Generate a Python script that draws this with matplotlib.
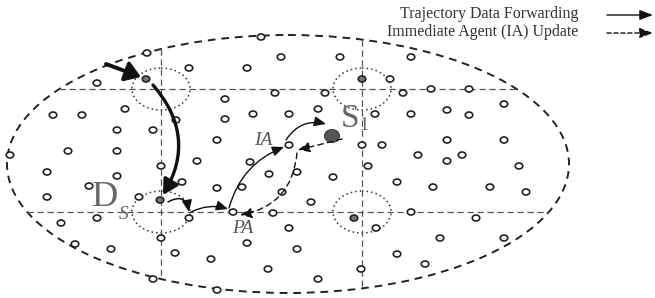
import matplotlib
matplotlib.use("Agg")
import matplotlib.pyplot as plt
import numpy as np
from matplotlib.patches import Ellipse, FancyArrowPatch

# ---- data (image pixel coordinates) ----
node_x = [147, 189, 97, 53, 82, 125, 117, 153, 176, 217, 68, 117, 10,
          261, 281, 340, 411, 247, 390, 225, 275, 325, 403, 431, 225, 253, 289, 318, 375, 411,
          289, 362, 382, 418, 469, 447, 469, 504, 447, 504, 462,
          47, 117, 161, 197, 89, 47, 139, 182, 217, 189, 97, 61, 161, 75, 111, 175, 211, 153, 217,
          250, 269, 297, 242, 282, 311, 333, 368, 397, 233, 273, 289, 376, 411, 247, 297, 397, 425,
          268, 361, 318, 447, 519, 433, 490, 526, 476, 440, 504]
node_y = [53, 68, 83, 115, 115, 109, 130, 130, 120, 140, 151, 151, 155,
          37, 57, 57, 57, 68, 79, 99, 93, 93, 93, 89, 119, 114, 114, 109, 114, 114,
          145, 145, 145, 155, 89, 110, 115, 104, 140, 140, 155,
          172, 176, 166, 161, 186, 197, 197, 182, 188, 218, 218, 223, 238, 244, 249, 253, 259, 279, 290,
          162, 174, 172, 187, 192, 202, 177, 166, 182, 212, 213, 228, 228, 212, 243, 249, 254, 264,
          269, 269, 279, 161, 166, 187, 187, 192, 218, 238, 238]
gray_x = [146, 362, 160, 354]
gray_y = [79, 79, 200, 218]
grid_x = [161, 362]
grid_y = [89, 212]
source = (332, 136)

legend_labels = ["Trajectory Data Forwarding", "Immediate Agent (IA) Update"]

W, H = 655, 298
fig = plt.figure(figsize=(W / 100, H / 100), dpi=100)
ax = fig.add_axes([0, 0, 1, 1])
ax.set_xlim(0, W)
ax.set_ylim(H, 0)
ax.axis("off")

# ellipse boundary
cx, cy, a, b = 288, 164, 281, 129
ax.add_patch(Ellipse((cx, cy), 2 * a, 2 * b, fill=False, ec="#222222", lw=1.4,
                     ls=(0, (4, 3))))

# grid lines clipped to ellipse
for gy in grid_y:
    half = a * np.sqrt(max(0, 1 - ((gy - cy) / b) ** 2))
    ax.plot([cx - half, cx + half], [gy, gy], color="#555555", lw=0.9, ls=(0, (5, 3)))
for gx in grid_x:
    half = b * np.sqrt(max(0, 1 - ((gx - cx) / a) ** 2))
    ax.plot([gx, gx], [cy - half, cy + half], color="#555555", lw=0.9, ls=(0, (5, 3)))

# dotted circles at intersections
for gx in grid_x:
    for gy in grid_y:
        ax.add_patch(Ellipse((gx, gy), 58, 42, fill=False, ec="#333333", lw=1.1,
                             ls=(0, (1, 2))))

# nodes
for x, y in zip(node_x, node_y):
    ax.add_patch(Ellipse((x, y), 7.5, 6, fill=True, fc="white", ec="#222222", lw=1.2, zorder=3))
for x, y in zip(gray_x, gray_y):
    ax.add_patch(Ellipse((x, y), 7.5, 6, fc="#777777", ec="#222222", lw=1.2, zorder=3))
ax.add_patch(Ellipse(source, 15, 13, fc="#555555", ec="#444444", lw=0.8, zorder=3))

def arrow(p0, p1, rad=0.0, lw=1.0, ls="-", head=(6, 2.5), color="#111111"):
    style = "-|>,head_length=%g,head_width=%g" % (head[0] / 2.0, head[1] / 2.0)
    ap = FancyArrowPatch(p0, p1, connectionstyle="arc3,rad=%g" % rad,
                         arrowstyle=style, lw=lw, ls=ls, color=color,
                         mutation_scale=2.0, shrinkA=0, shrinkB=0, zorder=4)
    ax.add_patch(ap)

# trajectory data forwarding (solid)
arrow((106, 64), (141, 77), rad=0.0, lw=2.8, head=(9, 6))
arrow((153, 85), (163, 195), rad=-0.36, lw=2.4, head=(9, 5))
arrow((168, 202), (189, 212), rad=-0.7, lw=1.1, head=(7, 3))
arrow((191, 212), (228, 209), rad=-0.2, lw=1.0, head=(7, 3))
arrow((229, 208), (284, 147), rad=-0.25, lw=1.0, head=(7, 3))
arrow((286, 140), (326, 124), rad=-0.35, lw=1.0, head=(7, 3))

# IA update (dashed)
arrow((342, 139), (298, 150), rad=0.0, lw=1.0, ls=(0, (4, 3)), head=(7, 3))
arrow((297, 153), (240, 215), rad=-0.38, lw=1.0, ls=(0, (4, 3)), head=(7, 3))

# labels
serif = "Liberation Serif"
ax.text(92, 206, "D", fontsize=26, family=serif, color="#666666", ha="left", va="baseline")
ax.text(119, 219, "S", fontsize=14, family=serif, style="italic", color="#666666",
        ha="left", va="baseline")
ax.text(341, 127, "S", fontsize=24, family=serif, color="#666666", ha="left", va="baseline")
ax.text(359, 130, "1", fontsize=13, family=serif, color="#666666", ha="left", va="baseline")
ax.text(254, 145, "IA", fontsize=14, family=serif, style="italic", color="#555555",
        ha="left", va="baseline")
ax.text(232, 233, "PA", fontsize=14, family=serif, style="italic", color="#555555",
        ha="left", va="baseline")

# legend
ax.text(578, 18, legend_labels[0], fontsize=11.5, family=serif, color="#333333",
        ha="right", va="baseline")
ax.text(578, 36, legend_labels[1], fontsize=11.5, family=serif, color="#333333",
        ha="right", va="baseline")
arrow((607, 15), (653, 15), lw=1.0, head=(8, 3))
arrow((607, 33), (653, 33), lw=1.0, ls=(0, (3, 2)), head=(8, 3))

fig.savefig("out.png", dpi=100)
